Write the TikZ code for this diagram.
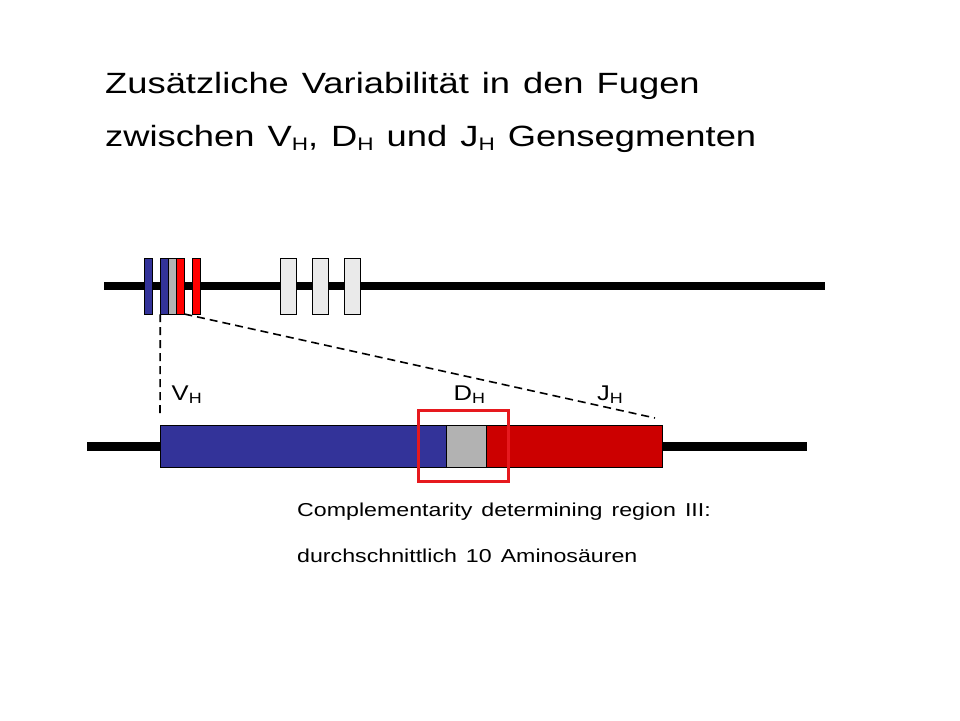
\documentclass[tikz,border=0pt]{standalone}
\usepackage{fontspec}
\usepackage{graphicx}
\setmainfont{Liberation Sans}
\usetikzlibrary{positioning}
\definecolor{vblue}{RGB}{51,51,153}
\definecolor{jred}{RGB}{204,0,0}
\definecolor{jbright}{RGB}{255,0,0}
\definecolor{dgrey}{RGB}{178,178,178}
\definecolor{cgrey}{RGB}{234,234,234}
\definecolor{boxred}{RGB}{230,25,30}
\newcommand{\segsub}[1]{\raisebox{-0.17em}{\scalebox{0.62}{#1}}}

\begin{document}
\begin{tikzpicture}[x=1pt, y=-1pt,
segnode/.style={rectangle, draw=black, line width=0.8pt, inner sep=0pt, outer sep=0pt, minimum width=8pt, minimum height=56pt},
barnode/.style={rectangle, draw=black, line width=0.8pt, inner sep=0pt, outer sep=0pt, minimum height=42pt},
labelnode/.style={inner sep=0pt, anchor=base west, font={\fontsize{21.3}{25}\selectfont\addfontfeature{FakeStretch=1.2}}},
titlenode/.style={inner sep=0pt, anchor=base west, font={\fontsize{29.3}{35}\selectfont\addfontfeature{FakeStretch=1.24}\spaceskip=13pt}},
captionnode/.style={inner sep=0pt, anchor=base west, font={\fontsize{18.7}{22}\selectfont\addfontfeature{FakeStretch=1.24}\spaceskip=9pt}},
]
\useasboundingbox (0,0) rectangle (960,720);

%Title
\node[titlenode] (title1) at (105,93) {Zusätzliche Variabilität in den Fugen};
\node[titlenode] (title2) at (105,146) {zwischen V\segsub{H}, D\segsub{H} und J\segsub{H} Gensegmenten};

%Backbones
\coordinate (topl) at (104,286);
\coordinate (topr) at (825,286);
\coordinate (botl) at (87,446);
\coordinate (botr) at (807,446);
\draw[line width=8pt] (topl) -- (topr);
\draw[line width=9pt] (botl) -- (botr);

%Nodes
\node[segnode, fill=vblue]   (v1) at (148.3,286) {};
\node[segnode, fill=vblue]   (v2) [right=8pt of v1] {};
\node[segnode, fill=dgrey]   (d1) [right=0pt of v2] {};
\node[segnode, fill=jbright] (j1) [right=0pt of d1] {};
\node[segnode, fill=jbright] (j2) [right=8pt of j1] {};
\node[segnode, fill=cgrey, minimum width=16pt] (c1) at (288.3,286) {};
\node[segnode, fill=cgrey, minimum width=16pt] (c2) [right=16pt of c1] {};
\node[segnode, fill=cgrey, minimum width=16pt] (c3) [right=16pt of c2] {};

\node[barnode, fill=vblue, minimum width=286.3pt] (vbar) at (303.15,446) {};
\node[barnode, fill=dgrey, minimum width=40.4pt]  (dbar) [right=0pt of vbar] {};
\node[barnode, fill=jred, minimum width=176pt]    (jbar) [right=0pt of dbar] {};
\node[rectangle, draw=boxred, line width=3pt, inner sep=0pt, minimum width=89.5pt, minimum height=71pt] (cdr) at (463.3,446) {};

\node[labelnode] (vlab) at (171.5,400) {V\textsubscript{H}};
\node[labelnode] (dlab) at (453.5,400) {D\textsubscript{H}};
\node[labelnode] (jlab) at (597,400) {J\textsubscript{H}};

\node[captionnode] (cap1) at (297,516) {Complementarity determining region III:};
\node[captionnode] (cap2) at (297,562) {durchschnittlich 10 Aminosäuren};

%Lines
\coordinate (jend) at (655,418);
\draw[line width=1.6pt, dash pattern=on 8pt off 5pt] (v2.south west) -- ([yshift=8pt]vbar.north west);
\draw[line width=1.6pt, dash pattern=on 8pt off 5pt] (j1.south east) -- (jend);
\end{tikzpicture}
\end{document}
